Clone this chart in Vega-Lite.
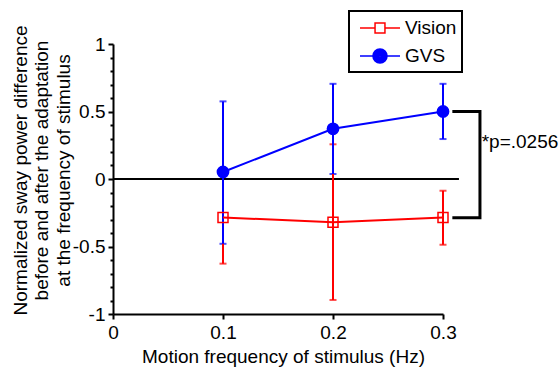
{
  "$schema": "https://vega.github.io/schema/vega-lite/v6.json",
  "width": 330,
  "height": 270,
  "autosize": "none",
  "padding": {"left": 113, "top": 44, "right": 116, "bottom": 54},
  "background": "white",
  "config": {
    "view": {"stroke": null},
    "font": "Liberation Sans",
    "legend": {"strokeWidth": 2},
    "axis": {
      "grid": false,
      "domainColor": "black",
      "domainWidth": 2,
      "tickColor": "black",
      "tickWidth": 2,
      "labelColor": "black",
      "labelFontSize": 19,
      "labelFont": "Liberation Sans",
      "titleFont": "Liberation Sans",
      "titleFontSize": 19,
      "titleFontWeight": "normal",
      "titleColor": "black"
    }
  },
  "resolve": {"axis": {"y": "independent"}, "scale": {"shape": "independent", "stroke": "independent", "fill": "independent"}},
  "datasets": {
    "pts": [
      {"series": "Vision", "freq": 0.1, "mean": -0.285, "lo": -0.627, "hi": 0.06},
      {"series": "Vision", "freq": 0.2, "mean": -0.32, "lo": -0.896, "hi": 0.257},
      {"series": "Vision", "freq": 0.3, "mean": -0.285, "lo": -0.487, "hi": -0.087},
      {"series": "GVS", "freq": 0.1, "mean": 0.052, "lo": -0.48, "hi": 0.575},
      {"series": "GVS", "freq": 0.2, "mean": 0.372, "lo": 0.037, "hi": 0.705},
      {"series": "GVS", "freq": 0.3, "mean": 0.5, "lo": 0.296, "hi": 0.705}
    ],
    "bracket": [
      {"bx": 0.3085, "by": 0.5, "o": 1},
      {"bx": 0.3336, "by": 0.5, "o": 2},
      {"bx": 0.3336, "by": -0.287, "o": 3},
      {"bx": 0.3085, "by": -0.287, "o": 4}
    ],
    "zero": [{"zx": 0, "zx2": 0.3145, "zy": 0}],
    "note": [{"nx": 0.3352, "ny": 0.276, "label": "*p=.0256"}]
  },
  "layer": [
    {
      "data": {"name": "zero"},
      "mark": {"type": "rule", "color": "black", "strokeWidth": 2},
      "encoding": {
        "x": {
          "field": "zx", "type": "quantitative",
          "scale": {"domain": [0, 0.3], "nice": false, "zero": false},
          "axis": {
            "values": [0, 0.1, 0.2, 0.3],
            "labelExpr": "toString(datum.value)",
            "tickSize": 5,
            "labelPadding": 4,
            "labelFlush": false,
            "labelOverlap": false,
            "title": "Motion frequency of stimulus (Hz)",
            "titleX": 170,
            "titleY": 48,
            "titleAlign": "center",
            "titleBaseline": "alphabetic"
          }
        },
        "x2": {"field": "zx2"},
        "y": {
          "field": "zy", "type": "quantitative",
          "scale": {"domain": [-1, 1], "nice": false, "zero": false},
          "axis": {
            "orient": "left",
            "values": [-1, -0.5, 0, 0.5, 1],
            "labelExpr": "toString(datum.value)",
            "tickSize": 5,
            "labelPadding": 3,
            "labelFlush": false,
            "labelOverlap": false,
            "title": ["Normalized sway power difference", "before and after the adaptation", "at the frequency of stimulus"],
            "titleFontSize": 19,
            "titleFont": "Liberation Sans",
            "titleLineHeight": 21.5,
            "titleX": -87,
            "titleY": 126,
            "titleAngle": -90,
            "titleAlign": "center",
            "titleBaseline": "alphabetic",
            "titleLimit": 1000
          }
        }
      }
    },
    {
      "data": {"name": "bracket"},
      "mark": {"type": "line", "color": "black", "strokeWidth": 3, "strokeJoin": "miter", "strokeCap": "butt"},
      "encoding": {
        "x": {"field": "bx", "type": "quantitative"},
        "y": {
          "field": "by", "type": "quantitative",
          "axis": {
            "orient": "left",
            "values": [-0.9, -0.8, -0.7, -0.6, -0.4, -0.3, -0.2, -0.1, 0.1, 0.2, 0.3, 0.4, 0.6, 0.7, 0.8, 0.9],
            "tickSize": 3,
            "labels": false,
            "domain": false,
            "title": null
          }
        },
        "order": {"field": "o", "type": "quantitative"}
      }
    },
    {
      "data": {"name": "note"},
      "mark": {"type": "text", "align": "left", "baseline": "middle", "fontSize": 19, "font": "Liberation Sans", "color": "black"},
      "encoding": {
        "x": {"field": "nx", "type": "quantitative"},
        "y": {"field": "ny", "type": "quantitative", "axis": null},
        "text": {"field": "label"}
      }
    },
    {
      "data": {"name": "pts"},
      "mark": {"type": "errorbar", "ticks": {"size": 7, "thickness": 2}, "thickness": 2},
      "encoding": {
        "x": {"field": "freq", "type": "quantitative"},
        "y": {"field": "lo", "type": "quantitative", "axis": null},
        "y2": {"field": "hi"},
        "color": {
          "field": "series", "type": "nominal",
          "scale": {"domain": ["Vision", "GVS"], "range": ["#ff0000", "#0000ff"]},
          "legend": null
        }
      }
    },
    {
      "data": {"name": "pts"},
      "mark": {"type": "line", "strokeWidth": 2},
      "encoding": {
        "x": {"field": "freq", "type": "quantitative"},
        "y": {"field": "mean", "type": "quantitative", "axis": null},
        "color": {"field": "series", "type": "nominal", "legend": null}
      }
    },
    {
      "data": {"name": "pts"},
      "mark": {"type": "point", "filled": false, "strokeWidth": 1.5, "opacity": 1},
      "encoding": {
        "x": {"field": "freq", "type": "quantitative"},
        "y": {"field": "mean", "type": "quantitative", "axis": null},
        "shape": {"field": "series", "type": "nominal", "scale": {"domain": ["Vision", "GVS"], "range": ["square", "circle"]}, "legend": null},
        "stroke": {"field": "series", "type": "nominal", "scale": {"domain": ["Vision", "GVS"], "range": ["#ff0000", "#0000ff"]}, "legend": null},
        "fill": {"field": "series", "type": "nominal", "scale": {"domain": ["Vision", "GVS"], "range": ["transparent", "#0000ff"]}, "legend": null},
        "size": {"field": "series", "type": "nominal", "scale": {"domain": ["Vision", "GVS"], "range": [100, 127]}, "legend": null}
      }
    },
    {
      "data": {"name": "pts"},
      "mark": {"type": "point", "filled": false, "opacity": 0, "strokeWidth": 1.5},
      "encoding": {
        "x": {"field": "freq", "type": "quantitative"},
        "y": {"field": "mean", "type": "quantitative", "axis": null},
        "shape": {
          "field": "series", "type": "nominal",
          "scale": {"domain": ["Vision", "GVS"], "range": ["M-1.82,0H-0.45M0.45,0H1.82M-0.45,-0.45H0.45V0.45H-0.45Z", "M-1.82,0H-0.64M0.64,0H1.82M0.64,0A0.64,0.64,0,1,1,-0.64,0A0.64,0.64,0,1,1,0.64,0ZM0.53,0A0.53,0.53,0,1,1,-0.53,0A0.53,0.53,0,1,1,0.53,0ZM0.42,0A0.42,0.42,0,1,1,-0.42,0A0.42,0.42,0,1,1,0.42,0ZM0.31,0A0.31,0.31,0,1,1,-0.31,0A0.31,0.31,0,1,1,0.31,0ZM0.2,0A0.2,0.2,0,1,1,-0.2,0A0.2,0.2,0,1,1,0.2,0ZM0.09,0A0.09,0.09,0,1,1,-0.09,0A0.09,0.09,0,1,1,0.09,0Z"]},
          "legend": {
            "orient": "none",
            "legendX": 236,
            "legendY": -33,
            "title": null,
            "padding": 5,
            "symbolSize": 484,
            "symbolStrokeWidth": 1.5,
            "symbolOffset": 14,
            "labelOffset": 13,
            "labelFontSize": 19,
            "labelFont": "Liberation Sans",
            "labelColor": "black",
            "rowPadding": 6,
            "strokeColor": "black"
          }
        },
        "stroke": {
          "field": "series", "type": "nominal",
          "scale": {"domain": ["Vision", "GVS"], "range": ["#ff0000", "#0000ff"]},
          "legend": {
            "orient": "none",
            "legendX": 236,
            "legendY": -33,
            "title": null,
            "padding": 5,
            "symbolSize": 484,
            "symbolStrokeWidth": 1.5,
            "symbolOffset": 14,
            "labelOffset": 13,
            "labelFontSize": 19,
            "labelFont": "Liberation Sans",
            "labelColor": "black",
            "rowPadding": 6,
            "strokeColor": "black"
          }
        }
      }
    }
  ]
}
